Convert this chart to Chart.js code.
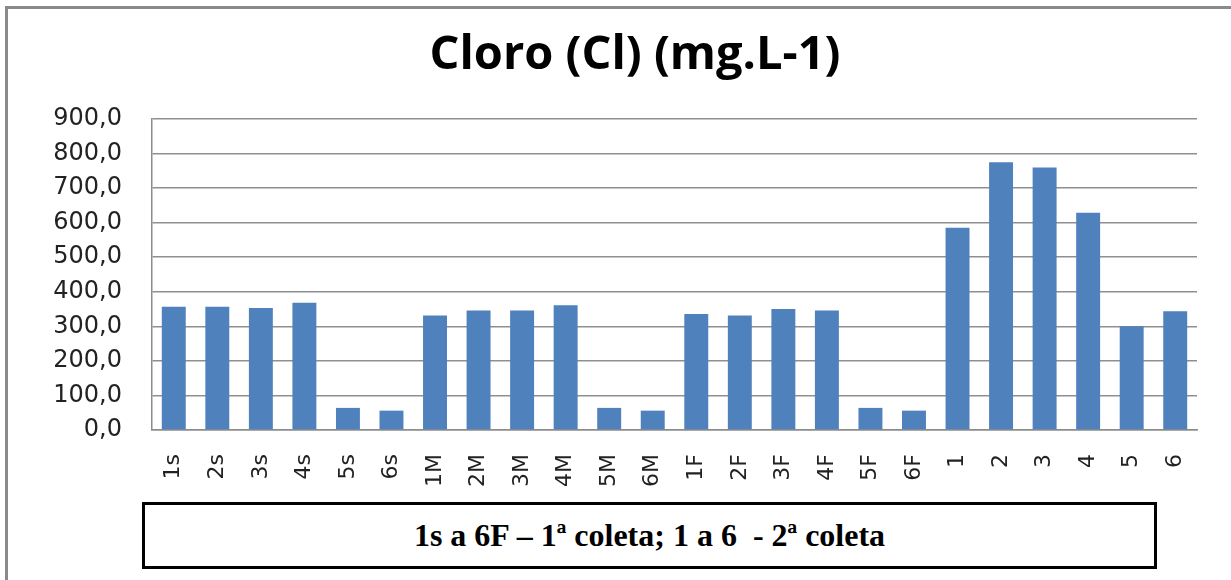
<!DOCTYPE html>
<html>
<head>
<meta charset="utf-8">
<script src="https://cdn.jsdelivr.net/npm/chart.js@4/dist/chart.umd.min.js"></script>
<style>
  html, body { margin: 0; padding: 0; background: #ffffff; }
  #wrap { position: relative; width: 1231px; height: 580px; overflow: hidden; background: #fff; }
  #chartBox { position: absolute; left: 0; top: 0; width: 1231px; height: 580px; }
  #frame { position: absolute; left: 5px; top: 6px; width: 1240px; height: 600px;
           border-top: 3px solid #8a8a8a; border-left: 3px solid #8a8a8a; pointer-events: none; }
  #caption { position: absolute; left: 142px; top: 502px; width: 1009px; height: 61px;
             border: 3px solid #000; background: #fff; display: flex; align-items: center; justify-content: center; }
  #caption span { font-family: "Liberation Serif", "DejaVu Serif", serif; font-weight: bold; font-size: 32px;
                  color: #000; display: inline-block; white-space: pre; }
</style>
</head>
<body>
<div id="wrap">
  <div id="chartBox"><canvas id="c" width="1231" height="580"></canvas></div>
  <div id="frame"></div>
  <div id="caption"><span>1s a 6F – 1ª coleta; 1 a 6  - 2ª coleta</span></div>
</div>
<script>
const categories = ["1s","2s","3s","4s","5s","6s","1M","2M","3M","4M","5M","6M","1F","2F","3F","4F","5F","6F","1","2","3","4","5","6"];
const chlorideValues = [357,357,353,368,64,56,331,346,346,361,64,56,336,331,350,346,64,56,585,775,760,629,300,344];
const yTicks = [0,100,200,300,400,500,600,700,800,900];
const chartTitle = "Cloro (Cl) (mg.L-1)";

const titlePlugin = {
  id: 'offsetTitle',
  afterDraw(chart) {
    const ctx = chart.ctx;
    ctx.save();
    ctx.font = 'bold 47px "Open Sans"';
    ctx.fillStyle = '#000';
    ctx.textAlign = 'center';
    ctx.textBaseline = 'middle';
    ctx.fillText(chartTitle, 635, 56);
    ctx.restore();
  }
};

new Chart(document.getElementById('c'), {
  type: 'bar',
  data: {
    labels: categories,
    datasets: [{
      data: chlorideValues,
      backgroundColor: '#4F81BD',
      borderWidth: 0,
      barPercentage: 0.55,
      categoryPercentage: 1.0
    }]
  },
  plugins: [titlePlugin],
  options: {
    responsive: false,
    animation: false,
    layout: { padding: { left: 0, right: 34, top: 119, bottom: 0 } },
    plugins: {
      legend: { display: false },
      tooltip: { enabled: false },
      title: { display: false }
    },
    scales: {
      x: {
        grid: { display: false, drawTicks: false },
        border: { display: true, color: '#8c8c8c', width: 1.5 },
        ticks: {
          autoSkip: false, minRotation: 90, maxRotation: 90,
          color: '#222', padding: 24,
          font: { family: 'DejaVu Sans', size: 22 }
        },
        afterFit: (s) => { s.height = 150; }
      },
      y: {
        min: 0, max: 900,
        afterBuildTicks: (s) => { s.ticks = yTicks.map(v => ({ value: v })); },
        grid: { color: '#8f8f8f', lineWidth: 1.5, drawTicks: false },
        border: { display: true, color: '#8c8c8c', width: 1.5 },
        ticks: {
          color: '#222', padding: 30,
          font: { family: 'DejaVu Sans', size: 24 },
          callback: (v) => Number(v).toFixed(1).replace('.', ',')
        },
        afterFit: (s) => { s.width = 152; }
      }
    }
  }
});
</script>
</body>
</html>
